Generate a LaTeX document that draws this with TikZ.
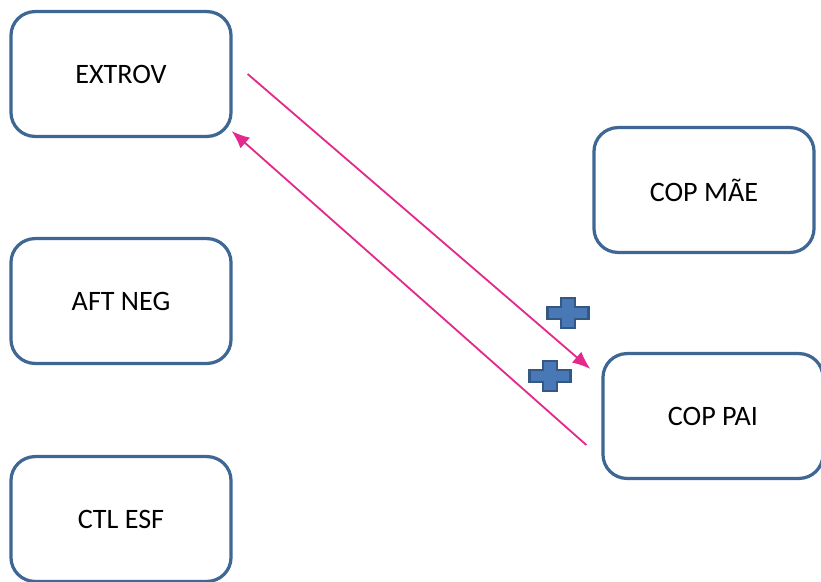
\documentclass[tikz,border=0pt]{standalone}
\usepackage{fontspec}
\setmainfont{Carlito}
\usetikzlibrary{arrows.meta}
\definecolor{boxblue}{RGB}{62,103,148}
\definecolor{plusfill}{RGB}{72,120,182}
\definecolor{plusline}{RGB}{52,88,132}
\definecolor{linkpink}{RGB}{226,42,140}
\tikzset{
  varbox/.style={draw=boxblue, line width=2.3pt, rounded corners=0.6cm, fill=white,
    minimum width=5.5cm, minimum height=3.12cm, font=\fontsize{20}{24}\selectfont},
  link/.style={draw=linkpink, line width=1.3pt, -{Latex[length=4.5mm,width=3.6mm]}},
  plussign/.pic={
    \filldraw[fill=plusfill, draw=plusline, line width=1.5pt]
      (-7,15) -- (7,15) -- (7,6) -- (20.5,6) -- (20.5,-6) -- (7,-6) -- (7,-15)
      -- (-7,-15) -- (-7,-6) -- (-20.5,-6) -- (-20.5,6) -- (-7,6) -- cycle;
  }
}

\begin{document}
\begin{tikzpicture}[x=0.025cm, y=-0.025cm]
	\useasboundingbox (0,0) rectangle (821,581);
	\clip (0,0) rectangle (821,581);
	% left column
	\node[varbox] (extrov) at (121,74) {EXTROV};
	\node[varbox] (aftneg) at (121,301) {AFT NEG};
	\node[varbox] (ctlesf) at (121,519) {CTL ESF};
	% right column
	\node[varbox] (copmae) at (704,190) {COP MÃE};
	\node[varbox] (coppai) at (713,416) {COP PAI};
	% links
	\draw[link] ([shift={(15,0)}]extrov.east) -- ([shift={(-11,17)}]coppai.north west);
	\draw[link] ([shift={(-15,29)}]coppai.west) -- ([shift={(-1,-7)}]extrov.south east);
	% signs
	\pic at (568,313) {plussign};
	\pic at (550,376) {plussign};
\end{tikzpicture}
\end{document}
